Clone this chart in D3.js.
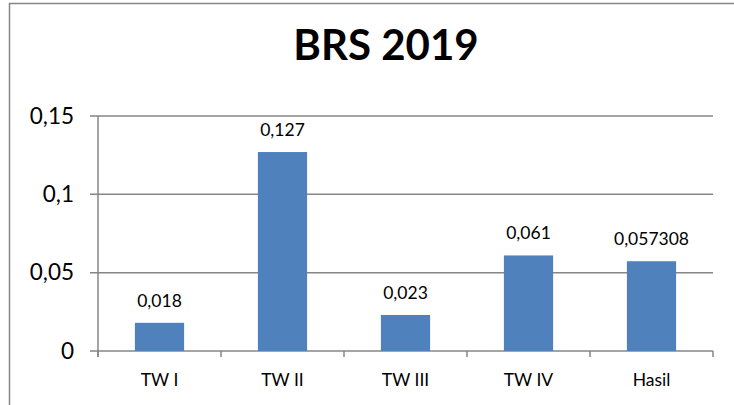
<!DOCTYPE html>
<html><head><meta charset="utf-8">
<script src="https://cdn.jsdelivr.net/npm/d3@7"></script>
<style>body{margin:0;background:#fff;} svg{display:block;}</style>
</head><body>
<svg id="c" width="734" height="405"></svg>
<script>
const categories = ["TW I", "TW II", "TW III", "TW IV", "Hasil"];
const values = [0.018, 0.127, 0.023, 0.061, 0.057308];
const valueLabels = ["0,018", "0,127", "0,023", "0,061", "0,057308"];
const yTicks = [0, 0.05, 0.1, 0.15];
const yTickLabels = ["0", "0,05", "0,1", "0,15"];
const title = "BRS 2019";

const svg = d3.select("#c");
const font = "Lato, 'Open Sans', sans-serif";
const grid = "#868686";

// outer chart border (cropped at right and bottom)
svg.append("path").attr("d", "M9.5,410 V3.5 H740")
  .attr("fill", "none").attr("stroke", grid).attr("stroke-width", 1.5);

svg.append("text").attr("x", 386).attr("y", 60).attr("text-anchor", "middle")
  .attr("font-family", font).attr("font-weight", "bold").attr("font-size", 42)
  .attr("fill", "#000").text(title);

const pL = 98, pR = 713, pT = 116, pB = 351;
const x = d3.scaleBand().domain(categories).range([pL, pR]).paddingInner(0.6).paddingOuter(0.3);
const xc = d3.scaleBand().domain(categories).range([pL, pR]);
const y = d3.scaleLinear().domain([0, 0.15]).range([pB, pT]);

// gridlines
svg.append("g").selectAll("line").data(yTicks).join("line")
  .attr("x1", pL - 8).attr("x2", pR)
  .attr("y1", d => y(d)).attr("y2", d => y(d))
  .attr("stroke", grid).attr("stroke-width", 1.5);

// y axis line
svg.append("line").attr("x1", pL).attr("x2", pL).attr("y1", pT).attr("y2", pB + 6)
  .attr("stroke", grid).attr("stroke-width", 1.5);

// x ticks
const xt = categories.map(c => xc(c)).concat([pR]);
svg.append("g").selectAll("line").data(xt).join("line")
  .attr("x1", d => d).attr("x2", d => d).attr("y1", pB).attr("y2", pB + 6)
  .attr("stroke", grid).attr("stroke-width", 1.5);

// y tick labels
svg.append("g").selectAll("text").data(yTicks).join("text")
  .attr("x", 74).attr("y", d => y(d) + 7.5).attr("text-anchor", "end")
  .attr("font-family", font).attr("font-size", 22.5).attr("fill", "#000")
  .text((d, i) => yTickLabels[i]);

// bars
svg.append("g").selectAll("rect").data(values).join("rect")
  .attr("x", (d, i) => x(categories[i])).attr("width", x.bandwidth())
  .attr("y", d => y(d)).attr("height", d => pB - y(d))
  .attr("fill", "#4F81BD");

// value labels
svg.append("g").selectAll("text").data(values).join("text")
  .attr("x", (d, i) => x(categories[i]) + x.bandwidth() / 2)
  .attr("y", d => y(d) - 16).attr("text-anchor", "middle")
  .attr("font-family", font).attr("font-size", 17.5).attr("fill", "#000")
  .text((d, i) => valueLabels[i]);

// category labels
svg.append("g").selectAll("text").data(categories).join("text")
  .attr("x", c => xc(c) + xc.bandwidth() / 2).attr("y", 386).attr("text-anchor", "middle")
  .attr("font-family", font).attr("font-size", 17.5).attr("fill", "#000")
  .text(c => c);
</script>
</body></html>
